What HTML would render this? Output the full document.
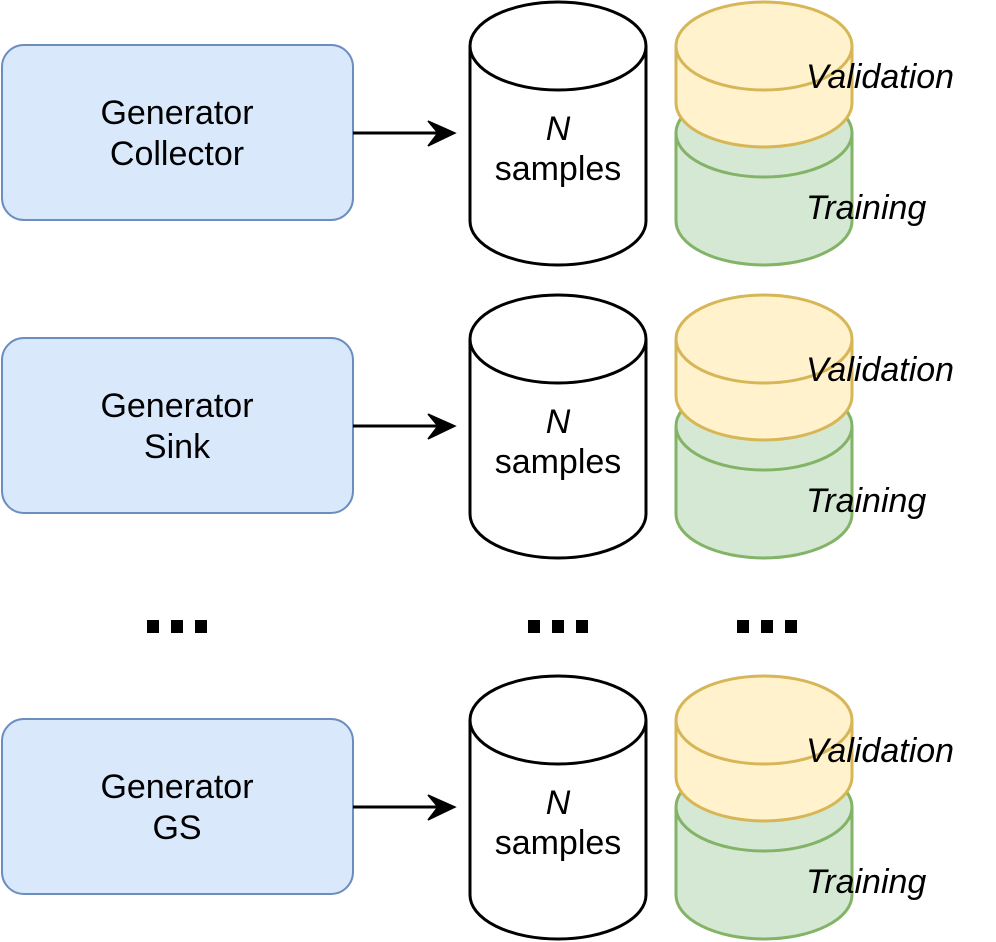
<!DOCTYPE html>
<html><head><meta charset="utf-8"><style>
html,body{margin:0;padding:0;background:#fff;width:996px;height:942px;overflow:hidden}
text{font-family:"Liberation Sans",Arial,sans-serif;font-size:34px;fill:#000}
</style></head><body>
<svg width="996" height="942" viewBox="0 0 996 942" xmlns="http://www.w3.org/2000/svg">
<defs>
<g id="row">
<rect x="2" y="45" width="351" height="175" rx="22" fill="#dae8fc" stroke="#6c8ebf" stroke-width="2"/>
<line x1="353" y1="133" x2="440" y2="133" stroke="#000" stroke-width="3"/>
<path d="M455,133 L428,121 L438,133 L428,146 Z" fill="#000" stroke="#000" stroke-width="1.5" stroke-linejoin="miter"/>
<!-- black cylinder -->
<path d="M470,46 L470,221 A88,44 0 0 0 646,221 L646,46" fill="#fff" stroke="#000" stroke-width="3"/>
<ellipse cx="558" cy="46" rx="88" ry="44" fill="#fff" stroke="#000" stroke-width="3"/>
<text x="558" y="140" text-anchor="middle" font-style="italic">N</text>
<text x="558" y="180" text-anchor="middle">samples</text>
<!-- green cylinder -->
<path d="M676,133 L676,221 A88,44 0 0 0 852,221 L852,133" fill="#d5e8d4" stroke="#82b366" stroke-width="3"/>
<ellipse cx="764" cy="133" rx="88" ry="44" fill="#d5e8d4" stroke="#82b366" stroke-width="3"/>
<!-- yellow cylinder -->
<path d="M676,46 L676,103 A88,44 0 0 0 852,103 L852,46" fill="#fff2cc" stroke="#d6b656" stroke-width="3"/>
<ellipse cx="764" cy="46" rx="88" ry="44" fill="#fff2cc" stroke="#d6b656" stroke-width="3"/>
<text x="806" y="88" font-style="italic">Validation</text>
<text x="806" y="219" font-style="italic">Training</text>
</g>
</defs>
<use href="#row"/>
<text x="177" y="124" text-anchor="middle">Generator</text>
<text x="177" y="165" text-anchor="middle">Collector</text>
<use href="#row" transform="translate(0,293)"/>
<text x="177" y="417" text-anchor="middle">Generator</text>
<text x="177" y="458" text-anchor="middle">Sink</text>
<use href="#row" transform="translate(0,674)"/>
<text x="177" y="798" text-anchor="middle">Generator</text>
<text x="177" y="839" text-anchor="middle">GS</text>
<g fill="#000">
<rect x="147" y="620" width="12" height="13"/><rect x="171" y="620" width="12" height="13"/><rect x="195" y="620" width="12" height="13"/>
<rect x="528" y="620" width="12" height="13"/><rect x="552" y="620" width="12" height="13"/><rect x="576" y="620" width="12" height="13"/>
<rect x="737" y="620" width="12" height="13"/><rect x="761" y="620" width="12" height="13"/><rect x="785" y="620" width="12" height="13"/>
</g>
</svg>
</body></html>
